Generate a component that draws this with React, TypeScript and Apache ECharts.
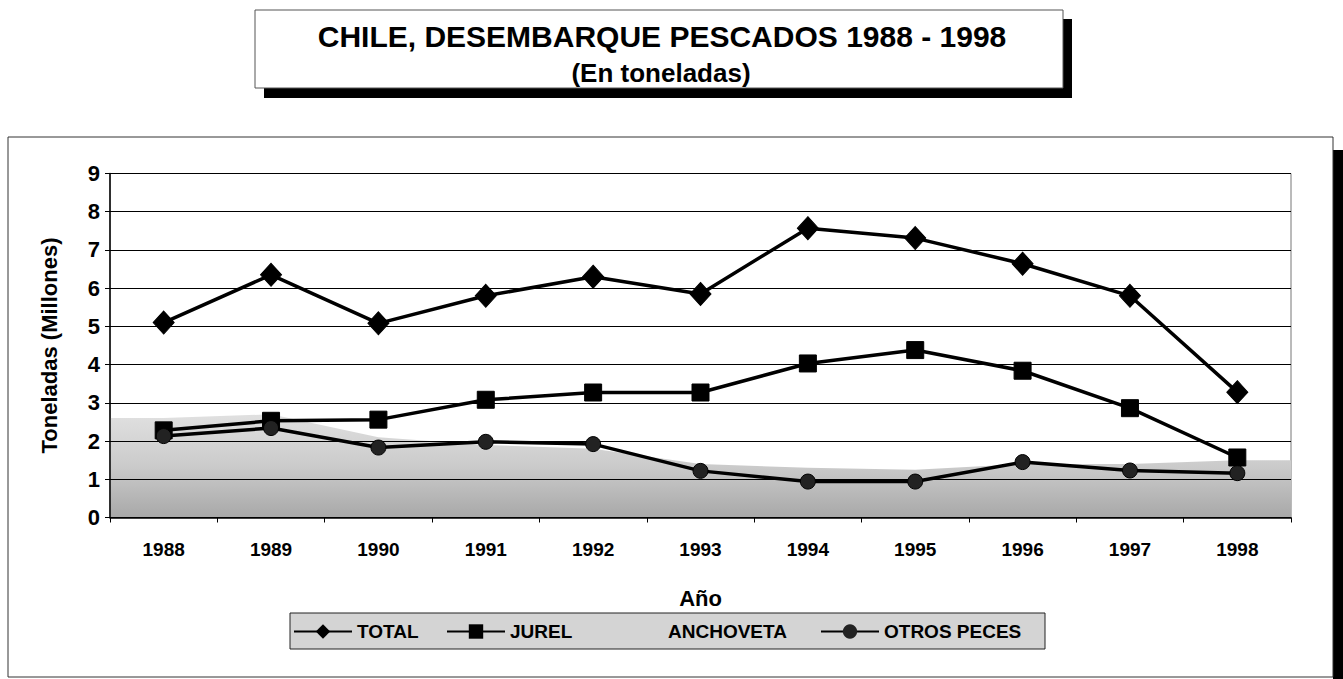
import React, { useEffect, useRef } from "react";
import * as echarts from "echarts";

const years = ["1988", "1989", "1990", "1991", "1992", "1993", "1994", "1995", "1996", "1997", "1998"];
const total = [5.1, 6.35, 5.08, 5.8, 6.3, 5.85, 7.57, 7.31, 6.64, 5.8, 3.28];
const jurel = [2.28, 2.53, 2.56, 3.08, 3.27, 3.27, 4.03, 4.38, 3.84, 2.86, 1.57];
const anchoveta = [2.6, 2.7, 2.1, 1.9, 1.8, 1.4, 1.3, 1.25, 1.4, 1.4, 1.5];
const otrosPeces = [2.13, 2.34, 1.83, 1.98, 1.92, 1.22, 0.94, 0.94, 1.45, 1.23, 1.16];

const FONT = "'Liberation Sans', Arial, sans-serif";

export default function App() {
  const ref = useRef<HTMLDivElement>(null);
  useEffect(() => {
    if (!ref.current) return;
    const chart = echarts.init(ref.current, null, { renderer: "svg" });
    const lineStyle = { color: "#000", width: 3.5 };
    const itemStyle = { color: "#000", borderColor: "#000" };
    const legendBase = {
      top: 622,
      itemWidth: 58,
      itemHeight: 18,
      itemGap: 0,
      textStyle: { fontFamily: FONT, fontWeight: "bold" as const, fontSize: 19, color: "#000" },
      padding: 0,
      z: 20,
      selectedMode: false,
    };
    // anchoveta area spread over full plot width on a hidden value axis (category i sits at i + 0.5)
    const n = years.length;
    const anchovetaPts: [number, number][] = [[0, anchoveta[0]]];
    anchoveta.forEach((v, i) => anchovetaPts.push([i + 0.5, v]));
    anchovetaPts.push([n, anchoveta[n - 1]]);

    chart.setOption({
      animation: false,
      textStyle: { fontFamily: FONT },
      graphic: [
        { type: "rect", z: -20, shape: { x: 264, y: 19, width: 808, height: 79 }, style: { fill: "#000" } },
        { type: "rect", z: -19, shape: { x: 255, y: 10, width: 808, height: 78 }, style: { fill: "#fff", stroke: "#555", lineWidth: 1 } },
        {
          type: "text", z: 10, x: 662, y: 36,
          style: { text: "CHILE, DESEMBARQUE PESCADOS 1988 - 1998", font: `bold 30px ${FONT}`, fill: "#000", align: "center", verticalAlign: "middle" },
        },
        {
          type: "text", z: 10, x: 661, y: 73,
          style: { text: "(En toneladas)", font: `bold 26px ${FONT}`, fill: "#000", align: "center", verticalAlign: "middle" },
        },
        { type: "rect", z: -20, shape: { x: 1333, y: 150, width: 10, height: 529 }, style: { fill: "#000" } },
        { type: "rect", z: -19, shape: { x: 8, y: 137, width: 1325, height: 540 }, style: { fill: "#fff", stroke: "#333", lineWidth: 1 } },
        { type: "rect", z: -5, shape: { x: 290, y: 613, width: 755, height: 36 }, style: { fill: "#d4d4d4", stroke: "#222", lineWidth: 1 } },
      ],
      grid: {
        left: 110, right: 52, top: 173.5, bottom: 161.5,
        show: true, borderColor: "#777", borderWidth: 1, backgroundColor: "transparent",
      },
      legend: [
        { ...legendBase, left: 293, data: [{ name: "TOTAL" }] },
        { ...legendBase, left: 446, data: [{ name: "JUREL" }] },
        { ...legendBase, left: 605, data: [{ name: "ANCHOVETA", itemStyle: { opacity: 0 }, lineStyle: { opacity: 0 } }] },
        { ...legendBase, left: 820, data: [{ name: "OTROS PECES" }] },
      ],
      xAxis: [
        {
          type: "category",
          data: years,
          boundaryGap: true,
          axisLine: { lineStyle: { color: "#000", width: 1.5 } },
          axisTick: { show: true, length: 5, lineStyle: { color: "#000" } },
          axisLabel: { color: "#000", fontFamily: FONT, fontWeight: "bold", fontSize: 19, margin: 22 },
          name: "Año",
          nameLocation: "middle",
          nameGap: 70,
          nameTextStyle: { color: "#000", fontFamily: FONT, fontWeight: "bold", fontSize: 22 },
          z: 3,
        },
        {
          type: "value",
          min: 0,
          max: n,
          show: false,
          position: "bottom",
        },
      ],
      yAxis: {
        type: "value",
        min: 0,
        max: 9,
        interval: 1,
        z: 1.5,
        axisLine: { show: true, lineStyle: { color: "#000", width: 1.5 } },
        axisTick: { show: true, length: 5, lineStyle: { color: "#000" } },
        axisLabel: { color: "#000", fontFamily: FONT, fontWeight: "bold", fontSize: 22, margin: 10 },
        splitLine: { show: true, lineStyle: { color: "#000", width: 1.2 } },
        name: "Toneladas (Millones)",
        nameLocation: "middle",
        nameGap: 50,
        nameRotate: 90,
        nameTextStyle: { color: "#000", fontFamily: FONT, fontWeight: "bold", fontSize: 22 },
      },
      series: [
        {
          name: "ANCHOVETA",
          type: "line",
          xAxisIndex: 1,
          data: anchovetaPts,
          symbol: "none",
          z: 1,
          lineStyle: { width: 0, color: "#bbb" },
          itemStyle: { color: "#bbb" },
          areaStyle: {
            color: new echarts.graphic.LinearGradient(0, 0, 0, 1, [
              { offset: 0, color: "#e0e0e0" },
              { offset: 0.5, color: "#cbcbcb" },
              { offset: 1, color: "#a8a8a8" },
            ]),
            opacity: 1,
          },
        },
        {
          name: "TOTAL", type: "line", data: total, symbol: "diamond", symbolSize: [21, 23], z: 5,
          lineStyle, itemStyle,
        },
        {
          name: "JUREL", type: "line", data: jurel, symbol: "rect", symbolSize: 17, z: 5,
          lineStyle, itemStyle,
        },
        {
          name: "OTROS PECES", type: "line", data: otrosPeces, symbol: "circle", symbolSize: 15, z: 5,
          lineStyle, itemStyle: { color: "#222", borderColor: "#000" },
        },
      ],
    });
    return () => chart.dispose();
  }, []);
  return <div ref={ref} style={{ position: "absolute", left: 0, top: 0, width: 1343, height: 679 }} />;
}
